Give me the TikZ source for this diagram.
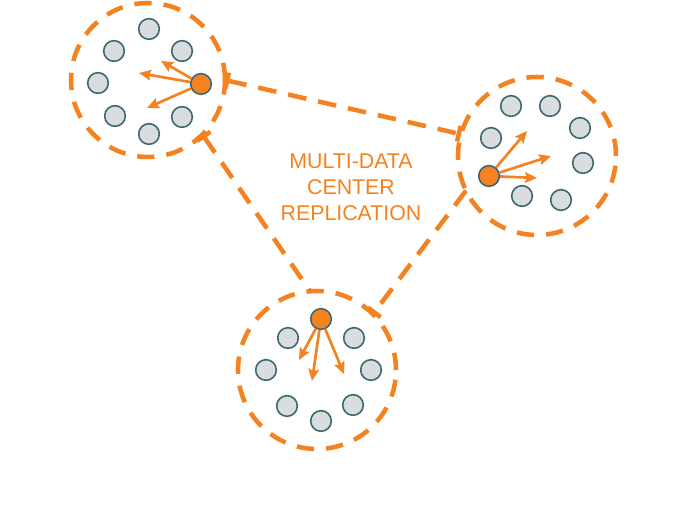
\documentclass[tikz,border=0pt]{standalone}
\usepackage{fontspec}
\setmainfont{Liberation Sans}
\usetikzlibrary{arrows.meta}
\definecolor{dcorange}{RGB}{245,130,32}
\definecolor{nodegrey}{RGB}{217,221,224}
\definecolor{nodeedge}{RGB}{62,104,112}
\begin{document}
\begin{tikzpicture}[x=0.75pt, y=-0.75pt,
		datacenter/.style={shape=circle, draw=dcorange, line width=3.4pt, dash pattern=on 13pt off 9pt, inner sep=0pt, outer sep=0pt},
		replica/.style={shape=circle, draw=nodeedge, fill=nodegrey, line width=1.2pt, minimum size=15.5pt, inner sep=0pt},
		leader/.style={replica, fill=dcorange},
		link/.style={draw=dcorange, line width=3.4pt, dash pattern=on 14pt off 9pt},
		repl/.style={draw=dcorange, line width=2pt, -{Stealth[length=9pt, width=8pt, inset=1.5pt]}}]
		\useasboundingbox (0,0) rectangle (686,523);
		% Data centers
		\node[datacenter, minimum size=115.5pt] (DcW) at (148,80) {};
		\node[datacenter, minimum size=118.5pt] (DcE) at (537,156) {};
		\node[datacenter, minimum size=118.5pt] (DcS) at (317,370) {};
		\node[text=dcorange, align=center, font=\fontsize{16}{19.5}\selectfont] (Lbl) at (351,187) {MULTI-DATA\\CENTER\\REPLICATION};
		% Replicas
		%% West
		\node[replica] (W1) at (149,29) {};
		\node[replica] (W2) at (182,51) {};
		\node[leader] (W3) at (201,84) {};
		\node[replica] (W4) at (182,117) {};
		\node[replica] (W5) at (149,134) {};
		\node[replica] (W6) at (115,116) {};
		\node[replica] (W7) at (98,83) {};
		\node[replica] (W8) at (114,51) {};
		%% East
		\node[replica] (E1) at (511,106) {};
		\node[replica] (E2) at (550,106) {};
		\node[replica] (E3) at (580,128) {};
		\node[replica] (E4) at (583,163) {};
		\node[replica] (E5) at (561,200) {};
		\node[replica] (E6) at (522,196) {};
		\node[leader] (E7) at (489,176) {};
		\node[replica] (E8) at (491,138) {};
		%% South
		\node[leader] (S1) at (321,319) {};
		\node[replica] (S2) at (354,338) {};
		\node[replica] (S3) at (371,370) {};
		\node[replica] (S4) at (353,405) {};
		\node[replica] (S5) at (321,421) {};
		\node[replica] (S6) at (287,406) {};
		\node[replica] (S7) at (266,370) {};
		\node[replica] (S8) at (288,338) {};
		% Arrow ends
		\coordinate (w1) at (139,73);
		\coordinate (w2) at (161,61);
		\coordinate (w3) at (147,108);
		\coordinate (e1) at (527,131);
		\coordinate (e2) at (551,156);
		\coordinate (e3) at (537,178);
		\coordinate (s1) at (299,360);
		\coordinate (s2) at (312,381);
		\coordinate (s3) at (344,374);
		% Connections
		%% Inside a data center
		\draw [repl] (W3) -- (w1);
		\draw [repl] (W3) -- (w2);
		\draw [repl] (W3) -- (w3);
		\draw [repl] (E7) -- (e1);
		\draw [repl] (E7) -- (e2);
		\draw [repl] (E7) -- (e3);
		\draw [repl] (S1) -- (s1);
		\draw [repl] (S1) -- (s2);
		\draw [repl] (S1) -- (s3);
		%% Between data centers
		\draw [link, {Bar[width=12pt]}-{Bar[width=12pt]}] (DcW.0) -- (DcE.164);
		\draw [link, {Bar[width=12pt]}-] (DcW.-45) -- (DcS.95);
		\draw [link, -{Bar[width=12pt]}] (DcE.206) -- (DcS.45);
\end{tikzpicture}
\end{document}
